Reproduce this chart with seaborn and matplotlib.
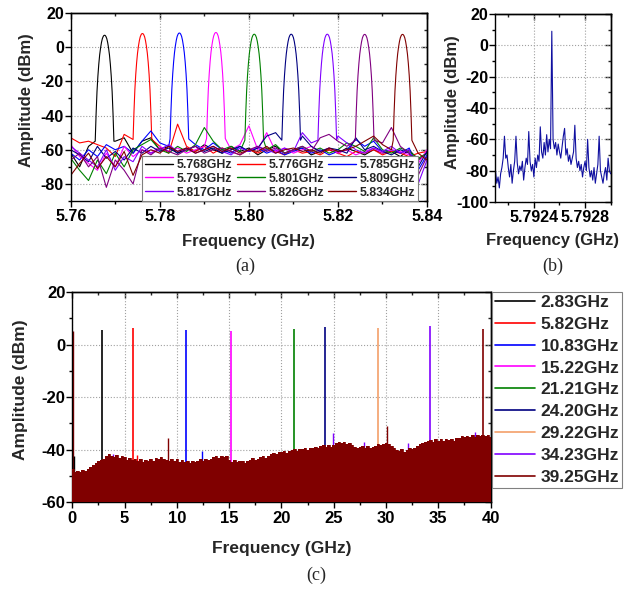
import numpy as np
import pandas as pd
import matplotlib
matplotlib.use("Agg")
import matplotlib.pyplot as plt
import seaborn as sns
from matplotlib.lines import Line2D
from matplotlib.ticker import MultipleLocator, FormatStrFormatter

nan = np.nan

# ---------------- (a) nine tones around 5.8 GHz ----------------
a_labels = ['5.768GHz', '5.776GHz', '5.785GHz', '5.793GHz', '5.801GHz',
            '5.809GHz', '5.817GHz', '5.826GHz', '5.834GHz']
a_colors = ['#000000', '#ff0000', '#0000ff', '#ff00ff', '#008000',
            '#000080', '#8000ff', '#800080', '#800000']
a_centers = [5.7676, 5.7761, 5.7844, 5.7926, 5.8012, 5.8095, 5.8176, 5.8260, 5.8345]
a_peaks = [7.0, 8.0, 8.3, 8.6, 7.6, 7.6, 7.6, 7.5, 7.5]

# main lobe shape (offset from centre in GHz, level below the peak in dB)
lobe_offset = [-0.0021, -0.0019, -0.0017, -0.0015, -0.0013, -0.0011, -0.0009, -0.0007,
               -0.0005, -0.0003, -0.00015, 0.0, 0.00015, 0.0003, 0.0005, 0.0007,
               0.0009, 0.0011, 0.0013, 0.0015, 0.0017, 0.0019, 0.0021]
lobe_drop = [-62, -46, -33, -24, -17, -11.5, -7.5, -4.3, -2, -0.7, -0.15, 0,
             -0.15, -0.7, -2, -4.3, -7.5, -11.5, -17, -24, -33, -46, -62]

# background / side lobes read every 2 MHz from 5.760 to 5.840 (nan = under main lobe)
a_grid = np.linspace(5.760, 5.840, 41)
bg_5768 = [-62, -70, -58, nan, nan, -55, -53, -62, -55, -53, -60, -58, -62, -59, -61, -57,
           -60, -62, -58, -61, -59, -63, -60, -58, -62, -60, -59, -63, -61, -60, -62, -59,
           -61, -63, -60, -62, -61, -64, -60, -66, -62]
bg_5776 = [-53, -56, -55, -57, -59, -64, -51, nan, nan, nan, -58, -62, -45, -58, -61, -58,
           -62, -59, -61, -63, -60, -62, -59, -61, -63, -60, -62, -61, -63, -60, -62, -64,
           -61, -62, -60, -63, -61, -62, -64, -62, -61]
bg_5785 = [-62, -66, -60, -64, -57, -60, -58, -62, -55, -49, -56, -58, nan, nan, -57, -60,
           -56, -60, -62, -58, -61, -59, -62, -60, -63, -61, -59, -62, -60, -63, -61, -60,
           -54, -58, -55, -61, -60, -62, -59, -72, -63]
bg_5793 = [-57, -64, -68, -72, -62, -70, -58, -64, -60, -62, -58, -61, -59, -62, -60, -58,
           nan, nan, -60, -57, -46, -60, -50, -61, -59, -62, -60, -58, -61, -59, -62, -60,
           -63, -61, -59, -62, -60, -61, -63, -68, -60]
bg_5801 = [-65, -72, -78, -66, -74, -62, -70, -60, -57, -54, -60, -62, -58, -61, -57, -47,
           -55, -60, -58, -61, nan, nan, -60, -57, -62, -60, -58, -61, -59, -62, -60, -56,
           -58, -61, -53, -60, -62, -59, -61, -65, -62]
bg_5809 = [-60, -63, -67, -58, -65, -61, -66, -59, -62, -58, -61, -59, -62, -60, -58, -61,
           -59, -62, -60, -58, -61, -59, -52, -50, nan, nan, -52, -58, -61, -59, -60, -62,
           -53, -60, -58, -61, -63, -60, -62, -70, -61]
bg_5817 = [-58, -62, -66, -70, -60, -72, -64, -67, -58, -62, -60, -57, -61, -59, -62, -60,
           -58, -61, -63, -59, -61, -58, -60, -62, -59, -61, -50, -56, nan, nan, -52, -56,
           -60, -62, -59, -61, -58, -62, -60, -80, -66]
bg_5826 = [-66, -62, -70, -64, -82, -66, -72, -80, -60, -63, -59, -61, -63, -60, -58, -62,
           -60, -59, -61, -63, -60, -58, -61, -59, -62, -60, -58, -61, -53, -51, -55, -58,
           nan, nan, nan, -56, -47, -58, -62, -75, -64]
bg_5834 = [-75, -68, -62, -71, -64, -70, -61, -75, -63, -60, -62, -58, -61, -59, -62, -60,
           -58, -61, -59, -62, -60, -61, -58, -62, -60, -59, -61, -60, -62, -59, -61, -60,
           -58, -55, -52, -57, -60, nan, nan, -62, -66]
a_backgrounds = [bg_5768, bg_5776, bg_5785, bg_5793, bg_5801,
                 bg_5809, bg_5817, bg_5826, bg_5834]

# ---------------- (b) zoom on the 5.793 GHz tone ----------------
b_freq = np.linspace(5.7921, 5.7930, 91)
b_amp = [-80, -88, -84, -91, -82, -78, -72, -58, -72, -70,
         -78, -84, -76, -88, -80, -74, -58, -75, -82, -77,
         -80, -74, -86, -78, -72, -76, -55, -74, -80, -76,
         -84, -72, -78, -70, -74, -52, -68, -72, -62, -70,
         -57, -68, -60, -66, 9, -60, -66, -62, -70, -63,
         -68, -72, -65, -58, -53, -70, -66, -74, -70, -76,
         -72, -68, -51, -72, -78, -74, -80, -76, -84, -78,
         -74, -80, -60, -78, -84, -80, -86, -78, -88, -82,
         -76, -58, -80, -84, -88, -82, -78, -86, -72, -80, -82]

# ---------------- (c) wideband tones 0-40 GHz ----------------
c_labels = ['2.83GHz', '5.82GHz', '10.83GHz', '15.22GHz', '21.21GHz',
            '24.20GHz', '29.22GHz', '34.23GHz', '39.25GHz']
c_colors = ['#000000', '#ff0000', '#0000ff', '#ff00ff', '#008000',
            '#000080', '#f4a06a', '#8000ff', '#800000']
c_freq = [2.83, 5.82, 10.83, 15.22, 21.21, 24.20, 29.22, 34.23, 39.25]
c_peak = [5.6, 6.5, 5.6, 5.3, 5.9, 6.6, 6.2, 7.1, 5.9]

spur_freq = [0.05, 0.12, 3.9, 6.15, 9.18, 12.37, 24.96, 27.85, 30.06, 32.1, 38.5]
spur_top = [5.0, -42.4, -41.5, -42.0, -35.6, -40.4, -33.7, -36.9, -30.8, -37.4, -33.3]
spur_color = ['#800000', '#000000', '#8000ff', '#ff0000', '#800000', '#0000ff',
              '#8000ff', '#8000ff', '#800000', '#8000ff', '#8000ff']

c_grid = np.linspace(0, 40, 161)
c_floor = [-47.5, -48.6, -48.0, -48.4, -47.8, -48.2, -47.2, -46.5,
           -45.8, -45.2, -44.4, -43.8, -43.6, -42.3, -41.5, -42.4,
           -42.8, -42.1, -43.0, -42.2, -42.6, -43.8, -43.1, -44.0,
           -43.6, -44.3, -43.4, -44.5, -43.8, -44.4, -43.5, -44.2,
           -43.2, -43.6, -42.8, -43.4, -43.8, -44.3, -43.5, -44.1,
           -43.7, -44.6, -43.9, -44.7, -44.2, -44.9, -44.3, -44.7,
           -44.2, -43.7, -44.1, -43.5, -44.0, -43.4, -42.9, -42.5,
           -43.2, -42.4, -42.9, -42.3, -44.0, -44.5, -43.9, -44.7,
           -44.4, -44.1, -44.9, -44.2, -43.8, -43.3, -43.9, -43.4,
           -42.8, -42.3, -43.0, -42.4, -41.6, -41.1, -41.8, -41.0,
           -40.8, -40.4, -41.1, -40.3, -40.2, -39.9, -40.5, -39.7,
           -39.9, -39.5, -40.2, -39.4, -39.3, -38.8, -39.5, -38.5,
           -38.3, -38.9, -38.3, -39.0, -38.2, -37.5, -37.0, -37.6,
           -37.1, -37.9, -37.3, -38.3, -38.8, -39.5, -38.9, -38.6,
           -39.2, -38.7, -39.5, -38.8, -38.4, -37.9, -38.3, -37.8,
           -37.4, -37.9, -38.6, -39.5, -40.0, -40.5, -39.8, -40.7,
           -40.2, -39.5, -39.9, -39.2, -38.6, -38.0, -37.6, -37.1,
           -36.8, -36.3, -36.9, -36.1, -36.5, -35.9, -36.7, -35.8,
           -36.3, -35.8, -36.5, -35.6, -35.4, -34.9, -35.3, -34.7,
           -35.1, -34.5, -35.0, -34.4, -34.9, -34.3, -34.8, -34.5, -35.0]

# ---------------- style ----------------
sns.set_style("ticks")
plt.rcParams['font.family'] = ['Liberation Sans', 'DejaVu Sans']
plt.rcParams['font.weight'] = 'bold'
plt.rcParams['axes.labelweight'] = 'bold'
plt.rcParams['axes.edgecolor'] = 'black'
plt.rcParams['axes.linewidth'] = 1.0


def style_axis(ax, xmaj, xmin, ymaj, ymin, size, xfmt, yfmt):
    ax.xaxis.set_major_locator(MultipleLocator(xmaj))
    ax.xaxis.set_minor_locator(MultipleLocator(xmin))
    ax.yaxis.set_major_locator(MultipleLocator(ymaj))
    ax.yaxis.set_minor_locator(MultipleLocator(ymin))
    ax.xaxis.set_major_formatter(FormatStrFormatter(xfmt))
    ax.yaxis.set_major_formatter(FormatStrFormatter(yfmt))
    ax.tick_params(which='both', direction='out', width=1, colors='black',
                   labelsize=size)
    ax.tick_params(which='major', length=4)
    ax.tick_params(which='minor', length=2.5)
    ax.tick_params(axis='x', pad=2)
    ax.tick_params(axis='y', pad=1)
    ax.grid(True, which='major', ls=':', lw=0.8, color='#a0a0a0')
    top = ax.secondary_xaxis('top')
    top.xaxis.set_major_locator(MultipleLocator(xmaj))
    top.xaxis.set_minor_locator(MultipleLocator(xmin))
    top.tick_params(which='both', direction='in', width=1, labeltop=False)
    top.tick_params(which='major', length=4)
    top.tick_params(which='minor', length=2.5)
    right = ax.secondary_yaxis('right')
    right.yaxis.set_major_locator(MultipleLocator(ymaj))
    right.yaxis.set_minor_locator(MultipleLocator(ymin))
    right.tick_params(which='both', direction='in', width=1, labelright=False)
    right.tick_params(which='major', length=4)
    right.tick_params(which='minor', length=2.5)


fig = plt.figure(figsize=(6.28, 5.89), dpi=100)
ax_a = fig.add_axes([0.1126, 0.6587, 0.5674, 0.3192])
ax_b = fig.add_axes([0.7890, 0.6570, 0.1834, 0.3192])
ax_c = fig.add_axes([0.1151, 0.1472, 0.6661, 0.3570])

# ---- panel (a)
rows = []
for lab, cen, pk, bg in zip(a_labels, a_centers, a_peaks, a_backgrounds):
    bg = np.array(bg, dtype=float)
    keep = ~np.isnan(bg)
    f = np.concatenate([a_grid[keep], cen + np.array(lobe_offset)])
    y = np.concatenate([bg[keep], pk + np.array(lobe_drop)])
    rows.append(pd.DataFrame({'freq': f, 'amp': y, 'tone': lab}))
df_a = pd.concat(rows, ignore_index=True)
sns.lineplot(data=df_a, x='freq', y='amp', hue='tone', hue_order=a_labels,
             palette=dict(zip(a_labels, a_colors)), estimator=None, sort=True,
             lw=0.8, legend=False, ax=ax_a)
ax_a.set_xlim(5.76, 5.84)
ax_a.set_ylim(-90, 20)
style_axis(ax_a, 0.02, 0.01, 20, 10, 11.5, '%.2f', '%d')
ax_a.set_xlabel('Frequency (GHz)', fontsize=12)
ax_a.set_ylabel('Amplitude (dBm)', fontsize=12)
ax_a.xaxis.set_label_coords(0.499, -0.176)
ax_a.yaxis.set_label_coords(-0.104, 0.537)
handles = [Line2D([], [], color=c, lw=1) for c in a_colors]
order = [0, 3, 6, 1, 4, 7, 2, 5, 8]
leg = ax_a.legend([handles[i] for i in order], [a_labels[i] for i in order],
                  ncol=3, loc='lower right', bbox_to_anchor=(0.975, 0),
                  borderaxespad=0, fontsize=8.8, handlelength=2.3,
                  handletextpad=0.3, columnspacing=0.35, labelspacing=0.15,
                  borderpad=0.2, frameon=True, fancybox=False, framealpha=1,
                  edgecolor='#808080')
leg.get_frame().set_linewidth(0.8)

# ---- panel (b)
sns.lineplot(x=b_freq, y=b_amp, color='#1010a0', lw=0.8, ax=ax_b)
ax_b.set_xlim(5.7921, 5.7930)
ax_b.set_ylim(-100, 20)
style_axis(ax_b, 0.0004, 0.0002, 20, 10, 11.5, '%.4f', '%d')
ax_b.set_xlabel('Frequency (GHz)', fontsize=12)
ax_b.set_ylabel('Amplitude (dBm)', fontsize=12)
ax_b.xaxis.set_label_coords(0.495, -0.165)
ax_b.yaxis.set_label_coords(-0.308, 0.533)

# ---- panel (c)
for f, top, col in zip(spur_freq, spur_top, spur_color):
    ax_c.vlines(f, -60, top, color=col, lw=1.0, zorder=2)
for f, top, col, lab in zip(c_freq, c_peak, c_colors, c_labels):
    ax_c.vlines(f, -60, top, color=col, lw=1.2, zorder=2, label=lab)
ax_c.fill_between(c_grid, c_floor, -60, step='mid', color='#800000', lw=0, zorder=3)
sns.lineplot(x=c_grid, y=c_floor, color='#800000', lw=0.6, drawstyle='steps-mid',
             ax=ax_c, zorder=3)
ax_c.set_xlim(0, 40)
ax_c.set_ylim(-60, 20)
style_axis(ax_c, 5, 2.5, 20, 10, 12, '%d', '%d')
ax_c.set_xlabel('Frequency (GHz)', fontsize=12.5)
ax_c.set_ylabel('Amplitude (dBm)', fontsize=12.5)
ax_c.xaxis.set_label_coords(0.5, -0.184)
ax_c.yaxis.set_label_coords(-0.106, 0.534)
c_handles = [Line2D([], [], color=c, lw=1.2) for c in c_colors]
leg_c = ax_c.legend(c_handles, c_labels, loc='upper left',
                    bbox_to_anchor=(492 / 628, 1 - 292 / 589),
                    bbox_transform=fig.transFigure, borderaxespad=0,
                    fontsize=12.5, handlelength=2.3, handletextpad=0.35,
                    labelspacing=0.39, borderpad=0.15, frameon=True,
                    fancybox=False, framealpha=1, edgecolor='#808080')
leg_c.get_frame().set_linewidth(0.8)

# ---- panel tags
tag = dict(ha='center', va='center', fontsize=13, fontweight='normal',
           family=['Liberation Serif', 'DejaVu Serif'])
fig.text(245 / 628, 1 - 266 / 589, '(a)', **tag)
fig.text(553 / 628, 1 - 266 / 589, '(b)', **tag)
fig.text(316 / 628, 1 - 575 / 589, '(c)', **tag)

fig.savefig('out.png', dpi=100)
